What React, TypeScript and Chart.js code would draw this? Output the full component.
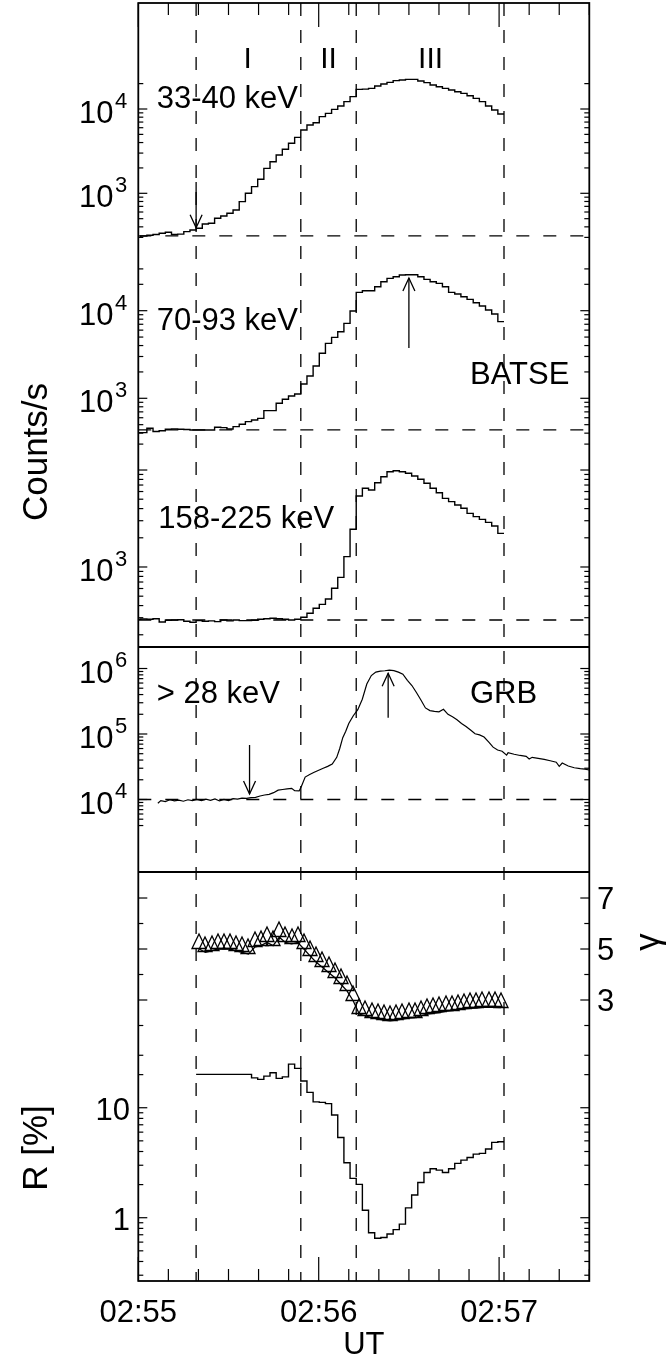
import { useEffect, useRef } from 'react';
import { Chart, registerables } from 'chart.js';

Chart.register(...registerables);

// ---------------- time axis (seconds after 02:55:00 UT) ----------------
const timeRange = [0, 150];
const timeLabelSeconds = [0, 60, 120];
const timeLabels = ['02:55', '02:56', '02:57'];
const timeMinorStep = 10;
const timeTitle = 'UT';

// phase boundaries (vertical dashed lines) and phase names
const phaseBoundaries = [19.23, 54.05, 72.48, 121.63];
const phaseNames = ['I', 'II', 'III'];
const phaseNameTimes = [36.4, 63.3, 97.2];

// ---------------- BATSE 2.048 s bins ----------------
const batseFirstBinStart = -1.248;
const batseBinWidth = 2.048;

const counts33to40 = [300, 311, 318, 324, 336, 345, 324, 328, 351, 367, 385, 433, 441, 505, 538, 579, 635, 796, 1000, 1200, 1465, 1978, 2372, 2849, 3326, 3917, 4613, 5632, 6457, 6880, 8110, 8885, 9907, 10860, 12220, 14010, 17100, 17200, 17570, 18740, 19780, 20710, 21680, 22070, 22480, 22480, 21490, 20530, 19270, 18400, 17570, 16790, 16050, 15340, 14390, 13380, 12220, 10860, 9730, 8730];
const counts70to93 = [406, 406, 455, 417, 426, 443, 447, 443, 440, 435, 435, 435, 435, 467, 462, 447, 475, 505, 542, 566, 590, 723, 723, 877, 974, 1063, 1120, 1458, 1798, 2339, 3262, 4240, 4960, 5757, 7171, 9914, 16180, 16910, 16910, 18780, 21410, 23380, 24430, 25530, 25760, 25760, 24430, 22750, 21410, 20500, 18780, 16180, 15490, 14450, 13470, 12330, 11300, 10180, 9160, 7500];
const counts158to225 = [289, 291, 289, 293, 271, 282, 284, 286, 276, 269, 280, 276, 278, 273, 284, 278, 284, 280, 280, 282, 289, 293, 296, 293, 289, 284, 289, 303, 333, 375, 412, 468, 603, 782, 1278, 2446, 5392, 6474, 6220, 7400, 8530, 9610, 9840, 9610, 9250, 8670, 8020, 7290, 6474, 5835, 5105, 4718, 4360, 4030, 3575, 3305, 3100, 2886, 2646, 2220];

const background33to40 = 312;
const background70to93 = 435;
const background158to225 = 284;

// ---------------- GRB > 28 keV ----------------
const grbTime = [6.5, 7.5, 9, 10.5, 12, 13.5, 15, 16.5, 18, 19.5, 21, 22.5, 24, 25.5, 27, 28.5, 30, 31.5, 33, 34.5, 36, 37.5, 39, 40.5, 42, 43.5, 45, 46.5, 48, 49.5, 51, 52, 53.5, 54.2, 55.5, 57, 58.5, 60, 61.5, 63, 64.5, 66, 67, 68, 69, 70, 71.5, 73, 74.5, 76, 77.5, 79, 80.5, 82, 83.5, 85, 86.5, 88, 89.5, 91, 92.5, 94, 95.5, 97, 98.5, 100, 101.5, 103, 104.5, 106, 107.5, 109, 110.5, 112, 113.5, 115, 116.5, 118, 119.5, 121, 122.5, 123, 125, 127, 129, 130, 131, 133, 135, 137, 139, 140, 141, 143, 145, 147, 148.5, 150];
const grbCounts = [8740, 9600, 9300, 9900, 9500, 9800, 9400, 9900, 9600, 10000, 9600, 10100, 9700, 10200, 9500, 10000, 9600, 10300, 10100, 10500, 10400, 10700, 10800, 11300, 11700, 12000, 12700, 13900, 14200, 14500, 14800, 13600, 13500, 15700, 22000, 24000, 26000, 28000, 30000, 32000, 34800, 44000, 60000, 88000, 110000, 145000, 190000, 235000, 340000, 580000, 780000, 880000, 910000, 925000, 945000, 930000, 880000, 820000, 660000, 550000, 430000, 330000, 250000, 228000, 222000, 218000, 238000, 200000, 183000, 165000, 145000, 130000, 115000, 101000, 97000, 90000, 76000, 63000, 57000, 54500, 47500, 52000, 49000, 47000, 45500, 41500, 44000, 42500, 41000, 39000, 37000, 32000, 36000, 32500, 30500, 29500, 29000, 28200];
const grbBackground = 10000;

// ---------------- spectral index and ratio (BATSE bins 10..59) ----------------
const spectralFirstBin = 10;
const gammaIndex = [5.0, 4.87, 4.93, 5.0, 5.0, 5.0, 4.93, 4.87, 4.8, 5.07, 5.13, 5.26, 5.13, 5.46, 5.26, 5.2, 5.26, 5.0, 4.73, 4.48, 4.28, 4.08, 3.88, 3.62, 3.36, 2.97, 2.45, 2.38, 2.31, 2.25, 2.21, 2.18, 2.21, 2.25, 2.29, 2.31, 2.38, 2.45, 2.48, 2.51, 2.55, 2.58, 2.61, 2.65, 2.67, 2.68, 2.71, 2.71, 2.71, 2.7];
const ratioPercent = [20.1, 20.1, 20.1, 20.1, 20.1, 20.1, 20.1, 20.1, 20.1, 18.7, 18.1, 19.4, 20.8, 18.5, 19.1, 24.9, 22.8, 17.5, 13.8, 11.3, 11.2, 10.9, 8.58, 5.37, 3.16, 2.28, 2.01, 1.17, 0.73, 0.65, 0.66, 0.71, 0.78, 0.875, 1.23, 1.61, 2.09, 2.58, 2.79, 2.71, 2.58, 2.79, 3.12, 3.34, 3.53, 3.79, 3.85, 4.21, 4.84, 4.91];

// ---------------- layout & style ----------------
const PAGE_W = 668;
const PAGE_H = 1358;
const FONT = "'Liberation Sans', Arial, Helvetica, sans-serif";
const FRAME = { left: 138.3, right: 589.3, top: 3, bottom: 1281 };
const SEPARATORS = [647, 872];
const DASH = [13, 14];

type Tick = { v: number; major: boolean };
type Arrow = { t: number; from: number; to: number };
type Label = { s: string; x: number; y: number; align?: CanvasTextAlign; size?: number };
type PanelSpec = {
  top: number;
  bottom: number;
  yType: 'logarithmic' | 'linear';
  yMin: number;
  yMax: number;
  datasets: any[];
  ticks: Tick[];
  powLabels?: { v: number; exp: string }[];
  leftLabels?: { v: number; s: string }[];
  rightLabels?: { v: number; s: string }[];
  baseline?: number;
  arrows?: Arrow[];
  texts?: Label[];
  phaseNames?: boolean;
  crispPoints?: boolean;
  global?: boolean;
};

function logTicks(lo: number, hi: number): Tick[] {
  const out: Tick[] = [];
  for (let e = Math.floor(Math.log10(lo)); e <= Math.ceil(Math.log10(hi)); e++) {
    for (let m = 1; m <= 9; m++) {
      const v = m * Math.pow(10, e);
      if (v >= lo * 0.999 && v <= hi * 1.001) out.push({ v, major: m === 1 });
    }
  }
  return out;
}

function seg(ctx: CanvasRenderingContext2D, x1: number, y1: number, x2: number, y2: number) {
  ctx.beginPath();
  ctx.moveTo(x1, y1);
  ctx.lineTo(x2, y2);
  ctx.stroke();
}

function txt(ctx: CanvasRenderingContext2D, s: string, x: number, cy: number, size: number, align: CanvasTextAlign = 'left') {
  ctx.font = `${size}px ${FONT}`;
  ctx.textAlign = align;
  ctx.textBaseline = 'alphabetic';
  ctx.fillText(s, x, cy + 0.36 * size);
}

function rtxt(ctx: CanvasRenderingContext2D, s: string, x: number, cy: number, size: number) {
  ctx.save();
  ctx.translate(x, cy);
  ctx.rotate(-Math.PI / 2);
  ctx.font = `${size}px ${FONT}`;
  ctx.textAlign = 'center';
  ctx.textBaseline = 'alphabetic';
  ctx.fillText(s, 0, 0.36 * size);
  ctx.restore();
}

function decor(spec: PanelSpec) {
  return {
    id: 'decor',
    beforeDatasetsDraw(chart: any) {
      if (spec.crispPoints) chart.ctx.imageSmoothingEnabled = false;
    },
    afterDatasetsDraw(chart: any) {
      if (spec.crispPoints) chart.ctx.imageSmoothingEnabled = true;
    },
    afterDraw(chart: any) {
      const ctx: CanvasRenderingContext2D = chart.ctx;
      const xs = chart.scales.x;
      const ys = chart.scales.y;
      ctx.save();
      ctx.strokeStyle = '#000';
      ctx.fillStyle = '#000';
      ctx.lineCap = 'butt';

      // inward y ticks on both sides
      ctx.lineWidth = 1.2;
      for (const t of spec.ticks) {
        const py = ys.getPixelForValue(t.v);
        const len = t.major ? 9 : 5;
        seg(ctx, FRAME.left, py, FRAME.left + len, py);
        seg(ctx, FRAME.right, py, FRAME.right - len, py);
      }

      // background level
      if (spec.baseline !== undefined) {
        ctx.lineWidth = 1.3;
        ctx.setLineDash(DASH);
        const py = ys.getPixelForValue(spec.baseline);
        seg(ctx, xs.getPixelForValue(timeRange[0]), py, xs.getPixelForValue(timeRange[1]), py);
        ctx.setLineDash([]);
      }

      // arrows
      ctx.lineWidth = 1.3;
      for (const a of spec.arrows || []) {
        const px = xs.getPixelForValue(a.t);
        const y0 = ys.getPixelForValue(a.from);
        const y1 = ys.getPixelForValue(a.to);
        const dir = y1 > y0 ? 1 : -1;
        seg(ctx, px, y0, px, y1);
        ctx.beginPath();
        ctx.moveTo(px - 6, y1 - dir * 13);
        ctx.lineTo(px, y1);
        ctx.lineTo(px + 6, y1 - dir * 13);
        ctx.stroke();
      }

      // y tick labels
      for (const l of spec.powLabels || []) {
        const py = ys.getPixelForValue(l.v);
        txt(ctx, '10', 113.5, py + 3, 31, 'right');
        txt(ctx, l.exp, 115, py - 9, 22, 'left');
      }
      for (const l of spec.leftLabels || []) {
        txt(ctx, l.s, 130, ys.getPixelForValue(l.v) + 1, 31, 'right');
      }
      for (const l of spec.rightLabels || []) {
        txt(ctx, l.s, 597, ys.getPixelForValue(l.v), 31, 'left');
      }

      for (const l of spec.texts || []) {
        txt(ctx, l.s, l.x, l.y, l.size || 31, l.align || 'left');
      }

      if (spec.phaseNames) {
        phaseNames.forEach((n, i) => txt(ctx, n, xs.getPixelForValue(phaseNameTimes[i]), 56.7, 30, 'center'));
      }

      if (spec.global) {
        // frame and panel separators
        ctx.lineWidth = 1.8;
        ctx.strokeRect(FRAME.left, FRAME.top, FRAME.right - FRAME.left, FRAME.bottom - FRAME.top);
        for (const y of SEPARATORS) seg(ctx, FRAME.left, y, FRAME.right, y);

        // phase boundaries
        ctx.lineWidth = 1.3;
        ctx.setLineDash(DASH);
        for (const t of phaseBoundaries) {
          const px = xs.getPixelForValue(t);
          seg(ctx, px, FRAME.top, px, FRAME.bottom);
        }
        ctx.setLineDash([]);

        // time ticks, top and bottom, inward
        ctx.lineWidth = 1.2;
        for (let t = timeRange[0]; t <= timeRange[1]; t += timeMinorStep) {
          const px = xs.getPixelForValue(t);
          const len = timeLabelSeconds.includes(t) ? 24 : 12;
          seg(ctx, px, FRAME.top, px, FRAME.top + len);
          seg(ctx, px, FRAME.bottom, px, FRAME.bottom - len);
        }
        timeLabels.forEach((s, i) => txt(ctx, s, xs.getPixelForValue(timeLabelSeconds[i]), 1310.5, 31, 'center'));
        txt(ctx, timeTitle, (FRAME.left + FRAME.right) / 2, 1343, 31, 'center');

        rtxt(ctx, 'Counts/s', 34, 452, 35);
        rtxt(ctx, 'R [%]', 34, 1148, 35);
        rtxt(ctx, 'γ', 646, 942, 35);
      }
      ctx.restore();
    },
  };
}

function makeTriangle(): HTMLCanvasElement {
  const c = document.createElement('canvas');
  c.width = 18;
  c.height = 34;
  const ctx = c.getContext('2d')!;
  ctx.strokeStyle = '#000';
  ctx.lineWidth = 1.3;
  ctx.beginPath();
  ctx.moveTo(2, 16.5);
  ctx.lineTo(16, 16.5);
  ctx.lineTo(9, 2);
  ctx.closePath();
  ctx.stroke();
  return c;
}

function buildPanels(): PanelSpec[] {
  const edge = (i: number) => Math.max(timeRange[0], batseFirstBinStart + i * batseBinWidth);
  const steps = (vals: number[], first: number) => {
    const pts = vals.map((v, i) => ({ x: edge(first + i), y: v }));
    pts.push({ x: edge(first + vals.length), y: vals[vals.length - 1] });
    return pts;
  };
  const stepSet = (vals: number[], first: number) => ({
    data: steps(vals, first),
    borderColor: '#000',
    borderWidth: 1.4,
    stepped: 'before',
    pointRadius: 0,
    fill: false,
    tension: 0,
  });
  const tri = makeTriangle();
  const gammaPts = gammaIndex.map((g, j) => ({
    x: (edge(spectralFirstBin + j) + edge(spectralFirstBin + j + 1)) / 2,
    y: g,
  }));

  return [
    {
      top: 3, bottom: 240, yType: 'logarithmic', yMin: 279.3, yMax: 180900,
      datasets: [stepSet(counts33to40, 0)],
      ticks: logTicks(300, 20000),
      powLabels: [{ v: 1e4, exp: '4' }, { v: 1e3, exp: '3' }],
      baseline: background33to40,
      arrows: [{ t: 19.23, from: 1360, to: 390 }],
      texts: [{ s: '33-40 keV', x: 156.7, y: 97 }],
      phaseNames: true,
    },
    {
      top: 240, bottom: 445, yType: 'logarithmic', yMin: 293, yMax: 64120,
      datasets: [stepSet(counts70to93, 0)],
      ticks: logTicks(300, 30000),
      powLabels: [{ v: 1e4, exp: '4' }, { v: 1e3, exp: '3' }],
      baseline: background70to93,
      arrows: [{ t: 90.0, from: 3750, to: 23600 }],
      texts: [{ s: '70-93 keV', x: 156.7, y: 319 }, { s: 'BATSE', x: 470, y: 372.5 }],
    },
    {
      top: 445, bottom: 647, yType: 'logarithmic', yMin: 149.6, yMax: 18110,
      datasets: [stepSet(counts158to225, 0)],
      ticks: logTicks(200, 10000),
      powLabels: [{ v: 1e3, exp: '3' }],
      baseline: background158to225,
      texts: [{ s: '158-225 keV', x: 158.3, y: 516.7 }],
    },
    {
      top: 647, bottom: 872, yType: 'logarithmic', yMin: 781, yMax: 2.13e6,
      datasets: [{
        data: grbTime.map((t, i) => ({ x: t, y: grbCounts[i] })),
        borderColor: '#000', borderWidth: 1.2, pointRadius: 0, fill: false, tension: 0,
      }],
      ticks: logTicks(4000, 1e6),
      powLabels: [{ v: 1e6, exp: '6' }, { v: 1e5, exp: '5' }, { v: 1e4, exp: '4' }],
      baseline: grbBackground,
      arrows: [{ t: 37.0, from: 67900, to: 12100 }, { t: 83.1, from: 177000, to: 845000 }],
      texts: [{ s: '> 28 keV', x: 156.7, y: 691.7 }, { s: 'GRB', x: 470, y: 691.7 }],
    },
    {
      top: 872, bottom: 1051, yType: 'linear', yMin: 1.0, yMax: 8.02,
      datasets: [{
        data: gammaPts,
        borderColor: '#000', borderWidth: 1.3, fill: false, tension: 0,
        pointStyle: tri, pointRadius: 4,
      }],
      ticks: [2, 3, 4, 5, 6, 7].map((v) => ({ v, major: v % 2 === 1 })),
      rightLabels: [{ v: 7, s: '7' }, { v: 5, s: '5' }, { v: 3, s: '3' }],
      crispPoints: true,
    },
    {
      top: 1040, bottom: 1281, yType: 'logarithmic', yMin: 0.2658, yMax: 41.3,
      datasets: [stepSet(ratioPercent, spectralFirstBin)],
      ticks: logTicks(0.3, 30),
      leftLabels: [{ v: 10, s: '10' }, { v: 1, s: '1' }],
      global: true,
    },
  ];
}

function makeChart(canvas: HTMLCanvasElement, spec: PanelSpec) {
  return new Chart(canvas, {
    type: 'line',
    data: { datasets: spec.datasets },
    options: {
      responsive: false,
      maintainAspectRatio: false,
      animation: false,
      devicePixelRatio: 1,
      events: [],
      layout: {
        padding: {
          left: FRAME.left,
          right: PAGE_W - FRAME.right,
          top: spec.top,
          bottom: PAGE_H - spec.bottom,
        },
      },
      scales: {
        x: { type: 'linear', min: timeRange[0], max: timeRange[1], display: false, bounds: 'data' },
        y: { type: spec.yType, min: spec.yMin, max: spec.yMax, display: false, bounds: 'data' },
      },
      plugins: { legend: { display: false }, tooltip: { enabled: false } },
    } as any,
    plugins: [decor(spec)],
  } as any);
}

export default function App() {
  const refs = useRef<(HTMLCanvasElement | null)[]>([]);
  useEffect(() => {
    const specs = buildPanels();
    const charts = specs.map((s, i) => makeChart(refs.current[i]!, s));
    return () => charts.forEach((c) => c.destroy());
  }, []);
  return (
    <div style={{ position: 'absolute', left: 0, top: 0, width: PAGE_W, height: PAGE_H, background: '#fff', overflow: 'hidden' }}>
      {[0, 1, 2, 3, 4, 5].map((i) => (
        <canvas
          key={i}
          ref={(el) => { refs.current[i] = el; }}
          width={PAGE_W}
          height={PAGE_H}
          style={{ position: 'absolute', left: 0, top: 0 }}
        />
      ))}
    </div>
  );
}
